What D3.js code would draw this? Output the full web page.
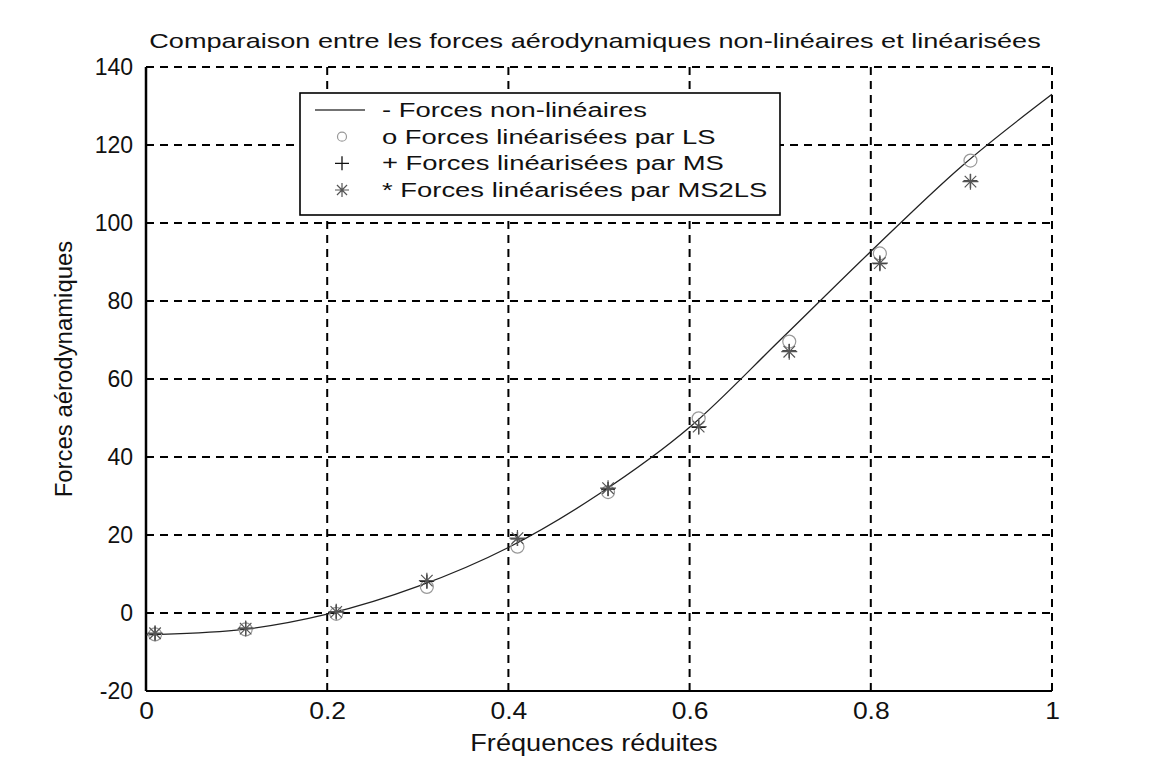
<!DOCTYPE html>
<html>
<head>
<meta charset="utf-8">
<script src="https://cdn.jsdelivr.net/npm/d3@7/dist/d3.min.js"></script>
<style>
  html, body { margin: 0; padding: 0; background: #ffffff; }
  svg { display: block; font-family: "Liberation Sans", Arial, Helvetica, sans-serif; }
</style>
</head>
<body>
<script>
// Reduced frequency samples of the continuous (non-linear) force curve
const freqCurve = [0, 0.1, 0.2, 0.3, 0.4, 0.5, 0.6, 0.7, 0.8, 0.9, 1.0];
const forcesNonLineaires = [-5.6, -4.4, -0.3, 6.8, 16.8, 30.5, 47.6, 70.0, 92.7, 114.5, 133.0];

// Reduced frequencies at which the linearised forces were evaluated
const freqPoints = [0.01, 0.11, 0.21, 0.31, 0.41, 0.51, 0.61, 0.71, 0.81, 0.91];
const forcesLS = [-5.5, -4.2, -0.2, 6.7, 17.0, 31.0, 49.9, 69.6, 92.2, 116.0];
const forcesMS = [-5.2, -3.9, 0.3, 8.1, 19.0, 31.8, 47.6, 67.2, 89.6, 110.8];
const forcesMS2LS = [-5.2, -4.0, 0.3, 8.3, 19.2, 32.0, 47.8, 67.0, 89.7, 110.6];

// Axis ticks
const xTicks = [0, 0.2, 0.4, 0.6, 0.8, 1];
const yTicks = [-20, 0, 20, 40, 60, 80, 100, 120, 140];

// Text
const titleText = "Comparaison entre les forces aérodynamiques non-linéaires et linéarisées";
const xLabelText = "Fréquences réduites";
const yLabelText = "Forces aérodynamiques";
const legendLabels = [
  "- Forces non-linéaires",
  "o Forces linéarisées par LS",
  "+ Forces linéarisées par MS",
  "* Forces linéarisées par MS2LS"
];

const W = 1155, H = 770;
const plot = { left: 146, right: 1052, top: 67, bottom: 691 };

const svg = d3.select("body").append("svg").attr("width", W).attr("height", H);

const x = d3.scaleLinear().domain([0, 1]).range([plot.left, plot.right]);
const y = d3.scaleLinear().domain([-20, 140]).range([plot.bottom, plot.top]);

// stretch a text element horizontally by a factor of its natural width
function stretch(sel, k) {
  sel.each(function () {
    const len = this.getComputedTextLength();
    d3.select(this).attr("textLength", len * k).attr("lengthAdjust", "spacingAndGlyphs");
  });
}

// Dashed grid (the top edge and right edge are grid lines too)
const grid = svg.append("g").attr("class", "grid");
grid.selectAll("line.h")
  .data(yTicks.filter(v => v > -20))
  .join("line")
  .attr("class", "h")
  .attr("x1", plot.left).attr("x2", plot.right)
  .attr("y1", d => y(d)).attr("y2", d => y(d))
  .attr("stroke", "#000").attr("stroke-width", 2).attr("stroke-dasharray", "8,6");
grid.selectAll("line.v")
  .data(xTicks.filter(v => v > 0))
  .join("line")
  .attr("class", "v")
  .attr("x1", d => x(d)).attr("x2", d => x(d))
  .attr("y1", plot.top).attr("y2", plot.bottom)
  .attr("stroke", "#000").attr("stroke-width", 2).attr("stroke-dasharray", "8,6");

// Solid left and bottom axis lines
svg.append("line")
  .attr("x1", plot.left).attr("x2", plot.left)
  .attr("y1", plot.top).attr("y2", plot.bottom)
  .attr("stroke", "#000").attr("stroke-width", 2.5);
svg.append("line")
  .attr("x1", plot.left).attr("x2", plot.right)
  .attr("y1", plot.bottom).attr("y2", plot.bottom)
  .attr("stroke", "#000").attr("stroke-width", 2);

// Tick labels (plain hyphen for negatives)
const yAxis = svg.append("g")
  .attr("transform", `translate(${plot.left},0)`)
  .call(d3.axisLeft(y).tickValues(yTicks).tickSize(0).tickPadding(13).tickFormat(d => String(d)));
yAxis.select(".domain").remove();
yAxis.selectAll("text").attr("font-size", 23).attr("fill", "#111")
  .attr("font-family", "Liberation Sans, Arial, sans-serif");

const xAxis = svg.append("g")
  .attr("transform", `translate(0,${plot.bottom})`)
  .call(d3.axisBottom(x).tickValues(xTicks).tickSize(0).tickPadding(12).tickFormat(d => String(d)));
xAxis.select(".domain").remove();
xAxis.selectAll("text").attr("font-size", 23).attr("fill", "#111")
  .attr("font-family", "Liberation Sans, Arial, sans-serif")
  .call(stretch, 1.15);

// Non-linear force curve
const curve = d3.line()
  .x((d, i) => x(freqCurve[i]))
  .y(d => y(d))
  .curve(d3.curveMonotoneX);
svg.append("path")
  .datum(forcesNonLineaires)
  .attr("d", curve)
  .attr("fill", "none")
  .attr("stroke", "#222")
  .attr("stroke-width", 1.3);

// Marker shapes
function drawCircle(g, cx, cy, r) {
  g.append("circle").attr("cx", cx).attr("cy", cy).attr("r", r)
    .attr("fill", "none").attr("stroke", "#999").attr("stroke-width", 1.2);
}
function drawPlus(g, cx, cy, s) {
  g.append("path")
    .attr("d", `M${cx - s},${cy}H${cx + s}M${cx},${cy - s}V${cy + s}`)
    .attr("stroke", "#111").attr("stroke-width", 1.3).attr("fill", "none");
}
function drawStar(g, cx, cy, s) {
  const d = s * 0.72;
  g.append("path")
    .attr("d", `M${cx - s},${cy}H${cx + s}M${cx},${cy - s}V${cy + s}` +
               `M${cx - d},${cy - d}L${cx + d},${cy + d}M${cx - d},${cy + d}L${cx + d},${cy - d}`)
    .attr("stroke", "#555").attr("stroke-width", 1.2).attr("fill", "none");
}

const marks = svg.append("g");
forcesLS.forEach((v, i) => drawCircle(marks, x(freqPoints[i]), y(v), 6.5));
forcesMS.forEach((v, i) => drawPlus(marks, x(freqPoints[i]), y(v), 7));
forcesMS2LS.forEach((v, i) => drawStar(marks, x(freqPoints[i]), y(v), 8));

// Title and axis labels
svg.append("text")
  .attr("x", (plot.left + plot.right) / 2 - 4).attr("y", 48)
  .attr("text-anchor", "middle").attr("font-size", 21).attr("fill", "#111")
  .text(titleText)
  .call(stretch, 1.29);

svg.append("text")
  .attr("x", 594).attr("y", 751)
  .attr("text-anchor", "middle").attr("font-size", 23).attr("fill", "#111")
  .text(xLabelText)
  .call(stretch, 1.18);

svg.append("text")
  .attr("transform", `translate(72,${(plot.top + plot.bottom) / 2 - 10}) rotate(-90)`)
  .attr("text-anchor", "middle").attr("font-size", 23).attr("fill", "#111")
  .text(yLabelText)
  .call(stretch, 1.04);

// Legend
const legend = { x0: 300, y0: 93, x1: 780, y1: 215 };
const lg = svg.append("g");
lg.append("rect")
  .attr("x", legend.x0).attr("y", legend.y0)
  .attr("width", legend.x1 - legend.x0).attr("height", legend.y1 - legend.y0)
  .attr("fill", "#fff").attr("stroke", "#000").attr("stroke-width", 1.6);

const rowY = d3.scalePoint().domain(d3.range(legendLabels.length)).range([110, 190]);
const sampleX = 342;

lg.append("line")
  .attr("x1", 315).attr("x2", 365).attr("y1", rowY(0)).attr("y2", rowY(0))
  .attr("stroke", "#444").attr("stroke-width", 1.3);
drawCircle(lg, sampleX, rowY(1), 4.5);
drawPlus(lg, sampleX, rowY(2), 7);
drawStar(lg, sampleX, rowY(3), 7);

lg.selectAll("text.entry")
  .data(legendLabels)
  .join("text")
  .attr("class", "entry")
  .attr("x", 382).attr("y", (d, i) => rowY(i) + 7)
  .attr("font-size", 20).attr("fill", "#111")
  .text(d => d)
  .call(stretch, 1.37);
</script>
</body>
</html>
